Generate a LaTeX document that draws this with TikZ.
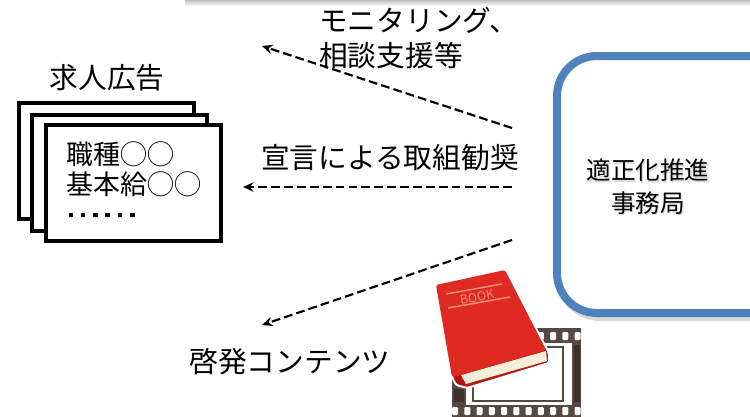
\documentclass[tikz,border=0pt]{standalone}
\usepackage{fontspec}
\setmainfont{Noto Sans CJK JP}
\usetikzlibrary{arrows.meta}

\newcommand\jobdot{\rule[6pt]{3.8pt}{3.8pt}\hspace{6.7pt}}

\begin{document}
\begin{tikzpicture}[x=0.03cm,y=-0.03cm,
  card/.style={draw=black,line width=.12cm,fill=white},
  flow/.style={-{Stealth[length=9pt,width=8pt,inset=3pt]},
    dash pattern=on 7.5pt off 3.5pt,line width=.065cm},
  lbl/.style={inner sep=0pt,font=\fontsize{24.5}{30}\selectfont}]
 \definecolor{b1}{RGB}{79,129,189}
 \definecolor{k1}{RGB}{86,72,65}
 \definecolor{k2}{RGB}{60,50,46}
 \definecolor{r1}{RGB}{222,42,32}
 \definecolor{r2}{RGB}{180,22,20}
 \definecolor{r3}{RGB}{246,142,120}
 \definecolor{p1}{RGB}{242,238,218}
 \useasboundingbox (0,0) rectangle (750,417);
 \clip (0,0) rectangle (750,417);

 \shade[top color=gray!50,bottom color=white] (185,0) rectangle (750,6);

 % job ads
 \foreach \xa/\ya in {19/103,32/115,46/125}
   \draw[card] (\xa,\ya) rectangle ++(175,116);
 \node[lbl] (ad) at (107,78) {求人広告};
 \node[lbl,anchor=west,align=left,font=\fontsize{23}{25.6}\selectfont]
   (job) at (66,183) {職種◯◯\\基本給◯◯\\
   \hspace{2pt}\jobdot\jobdot\jobdot\jobdot\jobdot\jobdot};

 % office
 \draw[gray!30,line width=.24cm,rounded corners=1.2cm]
   (560,60) rectangle (800,317);
 \draw[b1,line width=.24cm,rounded corners=1.2cm,fill=white]
   (557,56) rectangle (800,313);
 \node[align=center,text=gray!30,font=\fontsize{21}{28}\selectfont]
   (officeshade) at (649.2,188.2) {適正化推進\\事務局};
 \node[align=center,font=\fontsize{21}{28}\selectfont]
   (office) at (648,187) {適正化推進\\事務局};

 % film
 \fill[k1] (452,328) rectangle (581,417);
 \fill[white] (466,343) rectangle (572,405);
 \draw[k1,line width=.045cm] (473,347) rectangle (563,401);
 \fill[k2] (574,345) rectangle (580,402);
 \fill[k2] (454,389) rectangle (464,402);
 \foreach \i in {0,...,10} {
   \fill[white,rounded corners=1pt] (452+12.25*\i,407) rectangle ++(6,8);
   \fill[white,rounded corners=1pt] (452+12.25*\i,332) rectangle ++(6,8);
 }

 % book
 \filldraw[white,line width=.06cm,fill=r2,rounded corners=2pt]
   (436,285) -- (505,270) -- (549,353) -- (549,363) -- (467,388)
   -- (456,385) -- (452,377) -- cycle;
 \fill[p1] (461,375) -- (546,351) -- (547,361) -- (466,384) -- cycle;
 \fill[r1,rounded corners=2pt]
   (436,285) -- (505,270) -- (546,350) -- (461,375) -- (452,377) -- cycle;
 \draw[r3,line width=.045cm] (446,294) -- (502,284);
 \draw[r3,line width=.045cm] (448,308) -- (510,297);
 \node[text=r3,rotate=10,inner sep=0pt,font=\fontsize{10.5}{10.5}\selectfont]
   (bk) at (477,297) {BOOK};

 % arrows
 \coordinate (s1) at (512,128); \coordinate (e1) at (262,46);
 \coordinate (s2) at (512,187); \coordinate (e2) at (243,187);
 \coordinate (s3) at (512,240); \coordinate (e3) at (262,325);
 \draw[flow] (s1) -- (e1);
 \draw[flow] (s2) -- (e2);
 \draw[flow] (s3) -- (e3);
 \node[lbl,anchor=west,align=left,font=\fontsize{24.5}{29.8}\selectfont]
   (mon) at (319,38) {モニタリング、\\相談支援等};
 \node[lbl] (decl) at (390,158) {宣言による取組勧奨};
 \node[lbl] (edu) at (290,362) {啓発コンテンツ};
\end{tikzpicture}
\end{document}
